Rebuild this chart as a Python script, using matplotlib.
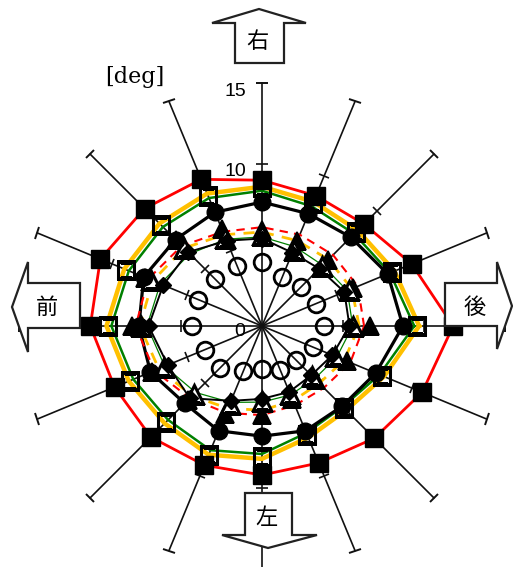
import numpy as np
import matplotlib
matplotlib.use("Agg")
import matplotlib.pyplot as plt
from matplotlib.markers import MarkerStyle
from matplotlib.transforms import Affine2D
from matplotlib.patches import Polygon

# ---- data (deg), angles counter-clockwise from the right ("後") ----
angles_deg = [0, 22.5, 45, 67.5, 90, 112.5, 135, 157.5,
              180, 202.5, 225, 247.5, 270, 292.5, 315, 337.5]

red_sq      = [11.8, 10.0, 8.9, 8.7, 9.0, 9.8, 10.25, 10.8,
               10.6, 9.85, 9.7, 9.3, 9.2, 9.15, 9.8, 10.7]
yellow_line = [9.7, 8.85, 8.35, 8.3, 8.6, 8.85, 8.95, 9.2,
               9.6, 8.9, 8.5, 8.6, 8.2, 7.45, 7.35, 8.15]
green_line  = [9.4, 8.55, 8.05, 8.0, 8.35, 8.55, 8.65, 8.9,
               9.3, 8.6, 8.2, 8.3, 7.9, 7.15, 7.05, 7.85]
open_sq     = [9.55, 8.7, 8.2, 8.2, 8.6, 8.7, 8.8, 9.1,
               9.5, 8.8, 8.4, 8.6, 8.1, 7.3, 7.2, 8.0]
black_circ  = [8.7, 8.4, 7.75, 7.5, 7.65, 7.6, 7.55, 7.9,
               7.6, 7.45, 6.75, 7.0, 6.8, 7.0, 7.0, 7.6]
red_dash    = [6.3, 6.4, 6.2, 6.1, 6.1, 6.3, 7.0, 7.6,
               7.8, 7.2, 6.3, 5.8, 5.5, 5.3, 5.4, 5.9]
yellow_dash = [6.0, 6.0, 5.8, 5.7, 5.8, 6.1, 6.8, 7.3,
               7.55, 6.9, 6.1, 5.5, 5.2, 5.0, 5.0, 5.5]
green_thin  = [5.6, 5.7, 5.3, 5.3, 5.5, 5.8, 6.3, 6.8,
               7.1, 6.5, 5.8, 5.1, 4.7, 4.6, 4.6, 5.0]
tri_filled  = [6.65, 6.1, 5.75, 5.7, 5.9, 6.5, 7.5, 7.8,
               8.05, 7.35, 6.5, 5.9, 5.5, 4.9, 4.75, 5.7]
tri_open    = [5.6, 5.8, 5.2, 5.1, 5.6, 5.9, 6.8, 7.4,
               7.45, 6.55, 5.9, 5.2, 4.6, 4.55, 4.4, 4.9]
diamonds    = [5.4, 5.5, 5.0, 4.9, 5.4, 5.7, 6.45, 6.6,
               7.0, 6.3, 6.3, 5.0, 4.5, 4.4, 4.3, 4.7]
open_circ   = [3.8, 3.6, 3.4, 3.3, 3.95, 4.0, 4.1, 4.25,
               4.3, 3.8, 3.65, 3.0, 2.67, 2.95, 3.0, 3.4]

r_max_axis = 15
r_ticks = [5, 10]
tick_labels = ["0", "10", "15"]
dir_labels = ["右", "左", "前", "後"]
unit_label = "[deg]"

# ---- figure ----
W, H = 513, 567
fig = plt.figure(figsize=(W / 100, H / 100), dpi=100)
cx, cy, ppu, rlim = 262, 326, 16.2, 16
half = rlim * ppu
ax = fig.add_axes([(cx - half) / W, (H - cy - half) / H, 2 * half / W, 2 * half / H],
                  projection='polar')
ax.set_ylim(0, rlim)
ax.set_axis_off()

th = np.deg2rad(angles_deg)
thc = np.append(th, th[0])

def closed(v):
    return np.append(v, v[0])

# spokes with end caps and ticks
spk = '#111111'
for a, t in zip(angles_deg, th):
    ax.plot([t, t], [0, r_max_axis], color=spk, lw=1.2, zorder=1, clip_on=False)
    cap = MarkerStyle('|', transform=Affine2D().rotate_deg(a))
    ax.plot([t], [r_max_axis], marker=cap, ms=9, mew=1.4, color=spk, zorder=1, clip_on=False)
    ax.plot([t] * len(r_ticks), r_ticks, ls='none', marker=cap, ms=8, mew=1.2,
            color=spk, zorder=1, clip_on=False)

# lines
ax.plot(thc, closed(red_sq), color='#FF0000', lw=2.0, zorder=2)
ax.plot(thc, closed(yellow_line), color='#FFC000', lw=3.2, zorder=2)
ax.plot(thc, closed(green_line), color='#008000', lw=1.8, zorder=2)
ax.plot(thc, closed(black_circ), color='black', lw=2.3, zorder=3)
ax.plot(thc, closed(red_dash), color='#FF0000', lw=1.5, ls=(0, (4, 3)), zorder=3)
ax.plot(thc, closed(yellow_dash), color='#FFC000', lw=2.0, ls=(0, (4, 3)), zorder=3)
ax.plot(thc, closed(green_thin), color='#008000', lw=0.9, zorder=3)
ax.plot(thc, closed(diamonds), color='black', lw=1.4, zorder=3)

# markers
ax.plot(th, open_circ, ls='none', marker='o', ms=12, mfc='none', mec='black', mew=2.0, zorder=5)
ax.plot(th, tri_filled, ls='none', marker='^', ms=13, mfc='black', mec='black', mew=1.2, zorder=6)
ax.plot(th, tri_open, ls='none', marker='^', ms=12.5, mfc='white', mec='black', mew=2.2, zorder=6)
ax.plot(th, diamonds, ls='none', marker='D', ms=8, mfc='black', mec='black', zorder=6)
ax.plot(th, black_circ, ls='none', marker='o', ms=12, mfc='black', mec='black', zorder=6)
ax.plot(th, open_sq, ls='none', marker='s', ms=12, mfc='none', mec='black', mew=2.2, zorder=7)
ax.plot(th, red_sq, ls='none', marker='s', ms=13.5, mfc='black', mec='black', zorder=8,
        clip_on=False)

# ---- overlay for labels and direction arrows (pixel coordinates) ----
ov = fig.add_axes([0, 0, 1, 1])
ov.set_xlim(0, W)
ov.set_ylim(H, 0)
ov.set_axis_off()

sans = ['Liberation Sans', 'DejaVu Sans']
cjk = ['Noto Sans CJK JP', 'DejaVu Sans']
ov.text(240, 331, tick_labels[0], fontsize=14, family=sans, ha='center', va='center', zorder=9)
ov.text(235, 171, tick_labels[1], fontsize=14, family=sans, ha='center', va='center', zorder=9)
ov.text(235, 91, tick_labels[2], fontsize=14, family=sans, ha='center', va='center', zorder=9)
ov.text(135, 77, unit_label, fontsize=16, family=['DejaVu Serif'], ha='center', va='center', zorder=9)

arrows = {
    '右': ([(259, 9), (306, 23), (284, 23), (284, 63), (235, 63), (235, 23), (212, 23)], (257, 42)),
    '左': ([(245, 493), (292, 493), (292, 535), (317, 535), (268, 548), (222, 535), (245, 535)], (266, 517)),
    '前': ([(12, 307), (28, 262), (28, 283), (80, 283), (80, 328), (28, 328), (28, 352)], (47, 307)),
    '後': ([(445, 283), (497, 283), (497, 262), (512, 306), (497, 349), (497, 326), (445, 326)], (475, 307)),
}
for lab in dir_labels:
    pts, (tx, ty) = arrows[lab]
    ov.add_patch(Polygon(pts, closed=True, facecolor='white', edgecolor='#222222',
                         lw=1.6, zorder=10))
    ov.text(tx, ty, lab, fontsize=16, family=cjk, ha='center', va='center', zorder=11)

fig.savefig('out.png', dpi=100, facecolor='white')
